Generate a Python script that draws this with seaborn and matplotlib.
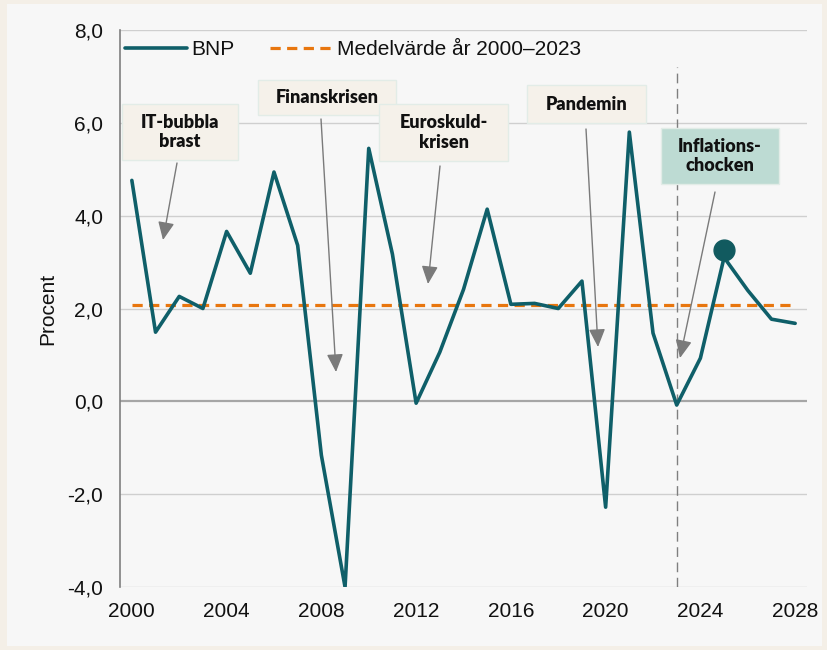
import matplotlib
matplotlib.use("Agg")
import matplotlib.pyplot as plt
import seaborn as sns
import pandas as pd
from matplotlib.patches import Rectangle

# ---- data ----
years = list(range(2000, 2029))
bnp = [4.76, 1.49, 2.26, 2.00, 3.66, 2.76, 4.94, 3.36, -1.16, -4.00,
       5.45, 3.17, -0.04, 1.06, 2.41, 4.14, 2.09, 2.11, 2.00, 2.59,
       -2.28, 5.80, 1.47, -0.08, 0.93, 3.10, 2.39, 1.77, 1.68]
mean_value = 2.08
mean_label = "Medelvärde år 2000–2023"
highlight_year = 2025
forecast_start = 2023
yticks = [-4, -2, 0, 2, 4, 6, 8]
ytick_labels = ["-4,0", "-2,0", "0,0", "2,0", "4,0", "6,0", "8,0"]
xticks = [2000, 2004, 2008, 2012, 2016, 2020, 2024, 2028]
events = ["IT-bubbla\nbrast", "Finanskrisen", "Euroskuld-\nkrisen", "Pandemin", "Inflations-\nchocken"]

df = pd.DataFrame({"year": years, "bnp": bnp})

W, H = 828, 650
sns.set_theme(style="white")
plt.rcParams["font.family"] = ["Liberation Sans", "DejaVu Sans"]

fig = plt.figure(figsize=(W / 100, H / 100), dpi=100, facecolor="#f4efe7")
fig.add_artist(Rectangle((7 / W, 1 - 646 / H), (822 - 7) / W, (646 - 4) / H,
                         transform=fig.transFigure, facecolor="#f7f7f7",
                         edgecolor="none", zorder=-10))

ax_l, ax_r, ax_t, ax_b = 120, 807, 30, 587
ax = fig.add_axes([ax_l / W, 1 - ax_b / H, (ax_r - ax_l) / W, (ax_b - ax_t) / H])
ax.set_facecolor("#f7f7f7")

# grid lines
for yv in yticks:
    if yv == 0:
        ax.axhline(yv, color="#a6a6a6", lw=1.6, zorder=1)
    else:
        ax.axhline(yv, color="#cfcfcf", lw=1.0, zorder=1)

# forecast divider
ax.vlines(forecast_start, -4, 7.2, colors="#7f7f7f", linestyles=(0, (7, 4)), lw=1.0, zorder=2)

teal = "#0f5f69"
sns.lineplot(data=df, x="year", y="bnp", ax=ax, color=teal, lw=2.6, label="BNP", zorder=4)
ax.hlines(mean_value, years[0], years[-1], colors="#e8760e", linestyles=(0, (3.2, 2.0)),
          lw=2.3, zorder=3, label=mean_label)
hv = bnp[years.index(highlight_year)]
ax.plot([highlight_year], [hv + 0.15], marker="o", ms=15, color="#115a5f", zorder=5,
        linestyle="none")

ax.set_xlim(1999.5, 2028.5)
ax.set_ylim(-4, 8)
ax.set_yticks(yticks)
ax.set_yticklabels(ytick_labels)
ax.set_xticks(xticks)
ax.set_xticklabels([str(x) for x in xticks])
ax.tick_params(axis="both", length=0, labelsize=15, colors="#111111")
ax.tick_params(axis="y", pad=12)
ax.tick_params(axis="x", pad=11)
ax.set_xlabel("")
ax.set_ylabel("Procent", fontsize=15, color="#111111")
ax.yaxis.set_label_coords((57 - ax_l) / (ax_r - ax_l), 0.5)
for s in ["top", "right", "bottom"]:
    ax.spines[s].set_visible(False)
ax.spines["left"].set_color("#7f7f7f")
ax.spines["left"].set_linewidth(1.2)

leg = ax.legend(loc="upper left", bbox_to_anchor=(0.007, 0.982), ncol=2, frameon=False,
                fontsize=15, handlelength=3.0, handletextpad=0.2, columnspacing=1.7,
                borderpad=0, borderaxespad=0)
for t in leg.get_texts():
    t.set_color("#111111")

# annotation boxes (pixel rectangles) and arrows
def fx(x):
    return x / W

def fy(y):
    return 1 - y / H

boxes = [  # x0, y0, x1, y1, face, arrow tail, arrow tip
    (122, 104, 238, 160, "#f5f1ea", (177, 163), (163, 240)),
    (258, 80, 396, 115, "#f5f1ea", (321, 119), (336, 372)),
    (379, 104, 508, 161, "#f5f1ea", (440, 166), (428, 284)),
    (527, 85, 646, 123, "#f5f1ea", (586, 129), (598, 347)),
    (661, 128, 779, 184, "#bddbd3", (715, 192), (680, 358)),
]
for label, (x0, y0, x1, y1, fc, tail, tip) in zip(events, boxes):
    fig.add_artist(Rectangle((fx(x0), fy(y1)), (x1 - x0) / W, (y1 - y0) / H,
                             transform=fig.transFigure, facecolor=fc,
                             edgecolor="#e2ece7", lw=1.0, zorder=6))
    fig.text(fx((x0 + x1) / 2), fy((y0 + y1) / 2), label, ha="center", va="center",
             fontsize=13, fontweight="heavy", family=["Lato", "DejaVu Sans"],
             color="#111111", linespacing=1.2, zorder=7)
    ax.annotate("", xy=(fx(tip[0]), fy(tip[1])), xycoords="figure fraction",
                xytext=(fx(tail[0]), fy(tail[1])), textcoords="figure fraction",
                arrowprops=dict(arrowstyle="-|>,head_length=0.55,head_width=0.25",
                                color="#7a7a7a", lw=1.0, mutation_scale=20,
                                shrinkA=0, shrinkB=0), zorder=6)

fig.savefig("out.png", dpi=100, facecolor=fig.get_facecolor())
